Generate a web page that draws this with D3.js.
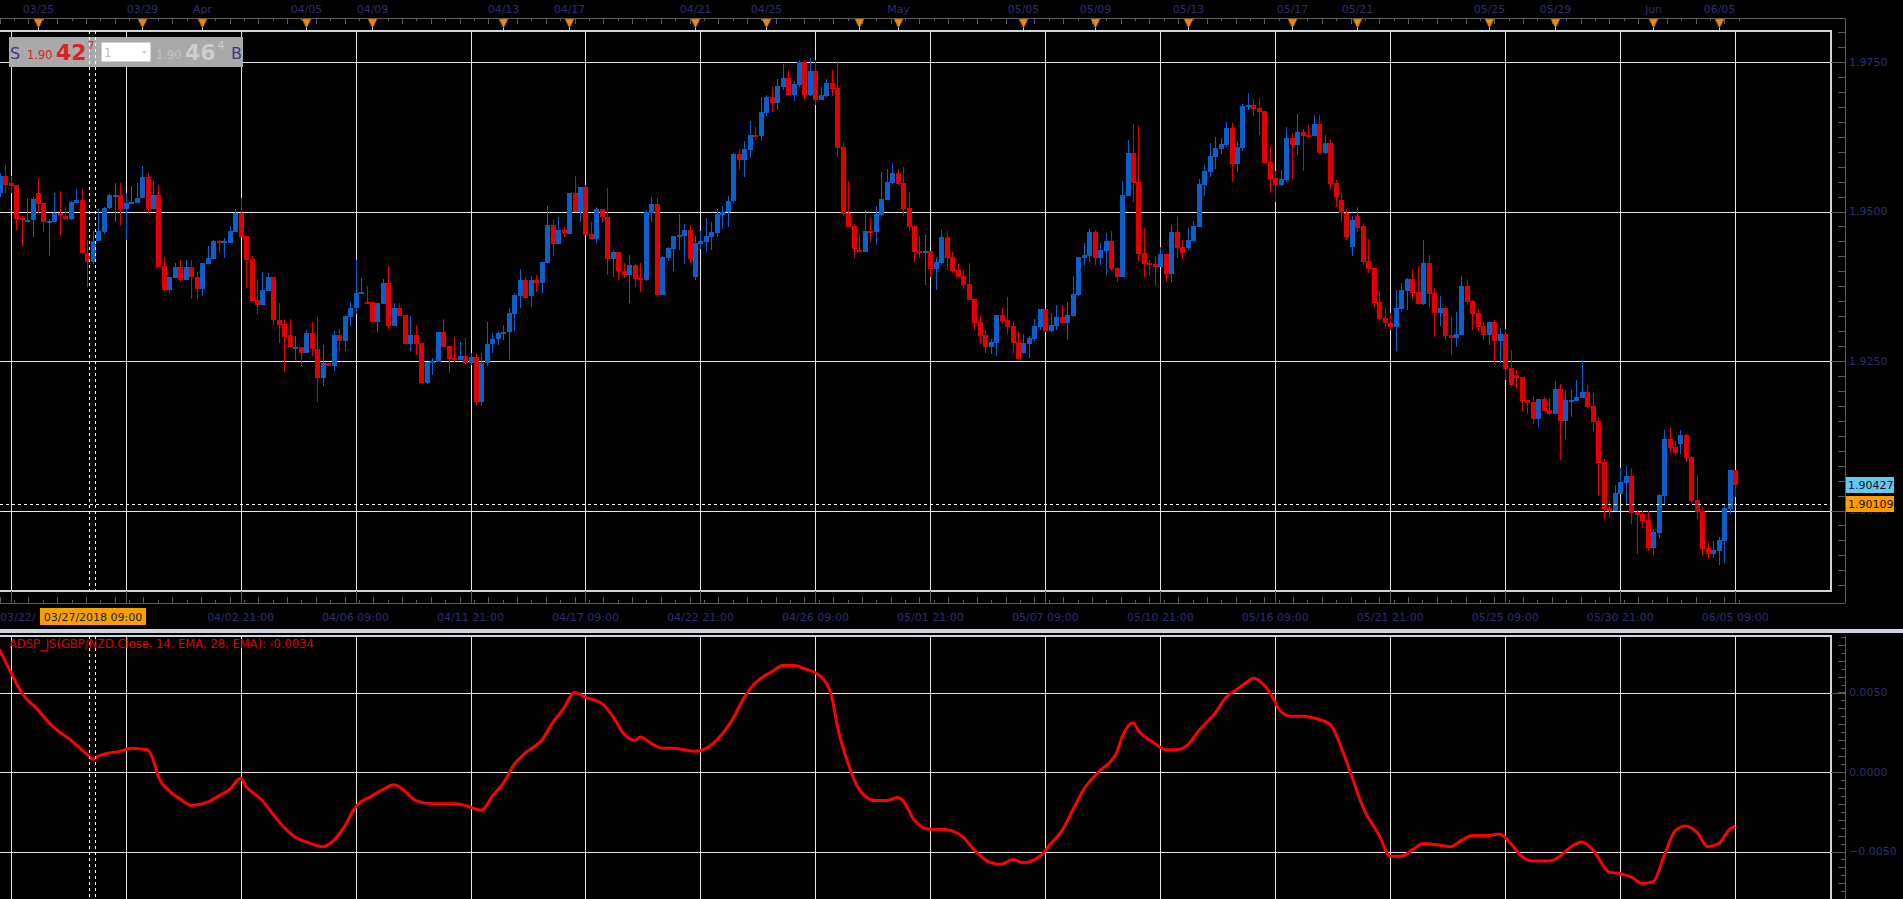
<!DOCTYPE html>
<html>
<head>
<meta charset="utf-8">
<script src="https://cdnjs.cloudflare.com/ajax/libs/d3/7.8.5/d3.min.js"></script>
<style>
html, body { margin: 0; padding: 0; background: #000; overflow: hidden; }
svg { display: block; }
text { font-family: "DejaVu Sans", Verdana, sans-serif; }
</style>
</head>
<body>
<div id="chart"></div>
<script>
// GBP/NZD 4H candles, 03/22 .. 06/05
var openP = [
1.9531,1.9559,1.9547,1.9545,1.9489,1.9485,1.9485,1.9531,1.9514,1.9483,
1.9483,1.9498,1.9493,1.9488,1.9514,1.9519,1.9431,1.9416,1.9450,1.9465,
1.9506,1.9527,1.9528,1.9504,1.9514,1.9514,1.9522,1.9557,1.9505,1.9528,
1.9409,1.9368,1.9388,1.9407,1.9386,1.9407,1.9391,1.9371,1.9413,1.9421,
1.9451,1.9449,1.9448,1.9465,1.9498,1.9459,1.9421,1.9352,1.9344,1.9367,
1.9391,1.9319,1.9312,1.9293,1.9273,1.9273,1.9263,1.9296,1.9270,1.9222,
1.9247,1.9242,1.9293,1.9283,1.9324,1.9338,1.9363,1.9349,1.9348,1.9316,
1.9346,1.9381,1.9308,1.9339,1.9327,1.9278,1.9294,1.9280,1.9214,1.9249,
1.9249,1.9299,1.9275,1.9255,1.9251,1.9259,1.9247,1.9257,1.9181,1.9246,
1.9278,1.9286,1.9295,1.9298,1.9329,1.9359,1.9386,1.9359,1.9386,1.9380,
1.9414,1.9478,1.9446,1.9469,1.9463,1.9531,1.9500,1.9541,1.9463,1.9454,
1.9504,1.9491,1.9420,1.9432,1.9401,1.9394,1.9411,1.9389,1.9386,1.9498,
1.9513,1.9361,1.9422,1.9438,1.9458,1.9459,1.9469,1.9390,1.9446,1.9449,
1.9458,1.9464,1.9494,1.9500,1.9517,1.9596,1.9586,1.9603,1.9628,1.9626,
1.9665,1.9692,1.9682,1.9708,1.9723,1.9695,1.9712,1.9750,1.9695,1.9735,
1.9687,1.9693,1.9715,1.9707,1.9608,1.9498,1.9476,1.9436,1.9432,1.9468,
1.9466,1.9494,1.9519,1.9548,1.9565,1.9548,1.9506,1.9476,1.9434,1.9431,
1.9434,1.9404,1.9414,1.9458,1.9424,1.9402,1.9392,1.9379,1.9354,1.9315,
1.9294,1.9274,1.9280,1.9327,1.9319,1.9309,1.9282,1.9264,1.9279,1.9287,
1.9307,1.9337,1.9300,1.9309,1.9324,1.9314,1.9325,1.9361,1.9422,1.9426,
1.9466,1.9422,1.9434,1.9451,1.9406,1.9391,1.9526,1.9598,1.9550,1.9431,
1.9414,1.9412,1.9407,1.9429,1.9396,1.9466,1.9441,1.9439,1.9451,1.9474,
1.9545,1.9566,1.9591,1.9605,1.9611,1.9640,1.9580,1.9606,1.9675,1.9678,
1.9673,1.9668,1.9583,1.9556,1.9545,1.9553,1.9623,1.9611,1.9633,1.9628,
1.9626,1.9647,1.9598,1.9615,1.9547,1.9519,1.9497,1.9441,1.9492,1.9475,
1.9417,1.9406,1.9349,1.9322,1.9314,1.9307,1.9337,1.9367,1.9387,1.9366,
1.9346,1.9414,1.9364,1.9330,1.9339,1.9294,1.9289,1.9294,1.9376,1.9351,
1.9330,1.9309,1.9294,1.9315,1.9284,1.9295,1.9239,1.9227,1.9223,1.9185,
1.9182,1.9153,1.9187,1.9168,1.9162,1.9203,1.9150,1.9183,1.9183,1.9188,
1.9198,1.9175,1.9150,1.9081,1.9004,1.8999,1.9028,1.9046,1.9058,1.8998,
1.8994,1.8984,1.8938,1.8963,1.9024,1.9120,1.9106,1.9111,1.9126,1.9089,
1.9018,1.8999,1.8938,1.8928,1.8933,1.8949,1.9002,1.9068];

var highP = [
1.9564,1.9578,1.9559,1.9545,1.9493,1.9523,1.9525,1.9556,1.9514,1.9488,
1.9531,1.9534,1.9507,1.9518,1.9538,1.9538,1.9453,1.9468,1.9505,1.9508,
1.9530,1.9547,1.9547,1.9531,1.9543,1.9548,1.9576,1.9565,1.9551,1.9544,
1.9424,1.9391,1.9414,1.9419,1.9419,1.9419,1.9398,1.9414,1.9443,1.9452,
1.9453,1.9456,1.9475,1.9505,1.9523,1.9459,1.9426,1.9387,1.9398,1.9397,
1.9391,1.9347,1.9320,1.9320,1.9292,1.9273,1.9302,1.9315,1.9324,1.9276,
1.9247,1.9300,1.9303,1.9327,1.9348,1.9419,1.9388,1.9376,1.9348,1.9347,
1.9387,1.9409,1.9347,1.9347,1.9327,1.9325,1.9310,1.9280,1.9249,1.9255,
1.9299,1.9320,1.9275,1.9290,1.9282,1.9289,1.9263,1.9263,1.9263,1.9315,
1.9296,1.9300,1.9310,1.9339,1.9363,1.9404,1.9390,1.9392,1.9394,1.9416,
1.9509,1.9486,1.9491,1.9474,1.9531,1.9560,1.9541,1.9544,1.9483,1.9507,
1.9504,1.9539,1.9436,1.9432,1.9414,1.9427,1.9412,1.9414,1.9502,1.9524,
1.9522,1.9425,1.9441,1.9459,1.9496,1.9479,1.9477,1.9459,1.9468,1.9489,
1.9483,1.9504,1.9509,1.9526,1.9598,1.9605,1.9618,1.9652,1.9641,1.9692,
1.9695,1.9708,1.9722,1.9747,1.9737,1.9718,1.9754,1.9752,1.9757,1.9754,
1.9708,1.9722,1.9737,1.9752,1.9616,1.9551,1.9479,1.9463,1.9503,1.9491,
1.9509,1.9566,1.9571,1.9581,1.9571,1.9575,1.9533,1.9478,1.9459,1.9463,
1.9434,1.9424,1.9469,1.9468,1.9432,1.9412,1.9402,1.9414,1.9356,1.9325,
1.9302,1.9287,1.9327,1.9339,1.9357,1.9317,1.9300,1.9295,1.9292,1.9320,
1.9337,1.9337,1.9330,1.9344,1.9344,1.9349,1.9392,1.9424,1.9448,1.9471,
1.9469,1.9448,1.9464,1.9468,1.9407,1.9551,1.9620,1.9647,1.9643,1.9473,
1.9419,1.9426,1.9441,1.9429,1.9478,1.9491,1.9453,1.9473,1.9484,1.9555,
1.9578,1.9615,1.9625,1.9623,1.9650,1.9648,1.9616,1.9680,1.9698,1.9688,
1.9690,1.9668,1.9610,1.9568,1.9570,1.9642,1.9631,1.9663,1.9638,1.9645,
1.9662,1.9662,1.9628,1.9620,1.9553,1.9531,1.9505,1.9492,1.9508,1.9480,
1.9454,1.9406,1.9367,1.9339,1.9330,1.9369,1.9381,1.9389,1.9402,1.9409,
1.9453,1.9427,1.9372,1.9359,1.9342,1.9324,1.9332,1.9392,1.9386,1.9352,
1.9337,1.9317,1.9315,1.9319,1.9305,1.9304,1.9269,1.9235,1.9223,1.9185,
1.9192,1.9187,1.9190,1.9188,1.9217,1.9212,1.9202,1.9202,1.9218,1.9252,
1.9210,1.9197,1.9157,1.9086,1.9014,1.9043,1.9071,1.9075,1.9071,1.9001,
1.8999,1.8999,1.8969,1.9028,1.9135,1.9138,1.9116,1.9135,1.9128,1.9089,
1.9060,1.9006,1.8948,1.8949,1.8956,1.9009,1.9068,1.9068];

var lowP = [
1.9525,1.9531,1.9531,1.9469,1.9443,1.9485,1.9458,1.9498,1.9465,1.9426,
1.9483,1.9460,1.9488,1.9486,1.9514,1.9430,1.9373,1.9412,1.9450,1.9463,
1.9504,1.9483,1.9475,1.9453,1.9514,1.9514,1.9522,1.9496,1.9505,1.9408,
1.9366,1.9366,1.9388,1.9382,1.9386,1.9354,1.9354,1.9358,1.9413,1.9420,
1.9430,1.9422,1.9448,1.9465,1.9458,1.9372,1.9351,1.9329,1.9344,1.9367,
1.9310,1.9280,1.9232,1.9271,1.9252,1.9241,1.9263,1.9259,1.9182,1.9209,
1.9241,1.9233,1.9266,1.9266,1.9309,1.9329,1.9363,1.9346,1.9313,1.9298,
1.9346,1.9303,1.9308,1.9326,1.9278,1.9266,1.9260,1.9214,1.9212,1.9227,
1.9249,1.9274,1.9230,1.9249,1.9251,1.9244,1.9244,1.9177,1.9174,1.9241,
1.9264,1.9276,1.9285,1.9252,1.9301,1.9339,1.9356,1.9341,1.9366,1.9364,
1.9414,1.9426,1.9446,1.9458,1.9463,1.9500,1.9482,1.9461,1.9454,1.9448,
1.9483,1.9393,1.9390,1.9385,1.9388,1.9347,1.9373,1.9365,1.9383,1.9482,
1.9357,1.9360,1.9418,1.9400,1.9436,1.9412,1.9414,1.9385,1.9438,1.9432,
1.9436,1.9458,1.9471,1.9474,1.9515,1.9570,1.9558,1.9590,1.9620,1.9618,
1.9660,1.9667,1.9670,1.9703,1.9695,1.9685,1.9708,1.9688,1.9693,1.9678,
1.9687,1.9692,1.9693,1.9591,1.9493,1.9474,1.9422,1.9431,1.9432,1.9449,
1.9444,1.9493,1.9519,1.9546,1.9545,1.9493,1.9468,1.9416,1.9422,1.9377,
1.9391,1.9369,1.9411,1.9402,1.9397,1.9391,1.9371,1.9352,1.9302,1.9279,
1.9264,1.9262,1.9259,1.9312,1.9295,1.9264,1.9254,1.9262,1.9255,1.9284,
1.9302,1.9299,1.9299,1.9302,1.9312,1.9285,1.9324,1.9359,1.9411,1.9416,
1.9411,1.9411,1.9394,1.9401,1.9382,1.9391,1.9526,1.9516,1.9416,1.9391,
1.9392,1.9376,1.9407,1.9382,1.9382,1.9422,1.9421,1.9436,1.9451,1.9474,
1.9526,1.9558,1.9571,1.9596,1.9608,1.9550,1.9566,1.9601,1.9670,1.9660,
1.9628,1.9580,1.9531,1.9516,1.9543,1.9550,1.9555,1.9595,1.9568,1.9626,
1.9626,1.9598,1.9596,1.9536,1.9508,1.9483,1.9453,1.9426,1.9466,1.9411,
1.9397,1.9339,1.9319,1.9304,1.9302,1.9267,1.9334,1.9336,1.9354,1.9346,
1.9344,1.9340,1.9290,1.9309,1.9285,1.9260,1.9274,1.9294,1.9344,1.9302,
1.9300,1.9285,1.9277,1.9245,1.9247,1.9218,1.9210,1.9203,1.9167,1.9162,
1.9145,1.9140,1.9167,1.9160,1.9162,1.9085,1.9120,1.9157,1.9183,1.9188,
1.9172,1.9133,1.9026,1.8986,1.8988,1.8999,1.9028,1.9009,1.8978,1.8928,
1.8971,1.8932,1.8926,1.8954,1.9011,1.9096,1.9095,1.9095,1.9081,1.9014,
1.8986,1.8924,1.8919,1.8921,1.8909,1.8912,1.8994,1.9023];

var closeP = [
1.9559,1.9545,1.9543,1.9488,1.9485,1.9486,1.9521,1.9513,1.9483,1.9484,
1.9498,1.9492,1.9488,1.9516,1.9519,1.9430,1.9416,1.9450,1.9468,1.9506,
1.9528,1.9528,1.9504,1.9514,1.9516,1.9523,1.9557,1.9504,1.9528,1.9408,
1.9368,1.9390,1.9407,1.9386,1.9407,1.9390,1.9371,1.9414,1.9423,1.9451,
1.9449,1.9450,1.9468,1.9498,1.9458,1.9419,1.9351,1.9344,1.9368,1.9391,
1.9318,1.9310,1.9290,1.9273,1.9274,1.9264,1.9296,1.9270,1.9222,1.9247,
1.9242,1.9293,1.9283,1.9325,1.9339,1.9363,1.9365,1.9347,1.9316,1.9347,
1.9381,1.9308,1.9338,1.9326,1.9278,1.9294,1.9279,1.9214,1.9249,1.9250,
1.9299,1.9274,1.9253,1.9251,1.9259,1.9247,1.9257,1.9181,1.9247,1.9279,
1.9287,1.9297,1.9299,1.9330,1.9361,1.9386,1.9356,1.9386,1.9380,1.9416,
1.9478,1.9446,1.9469,1.9464,1.9531,1.9500,1.9541,1.9461,1.9454,1.9504,
1.9490,1.9420,1.9432,1.9400,1.9394,1.9411,1.9387,1.9386,1.9500,1.9513,
1.9361,1.9424,1.9439,1.9459,1.9461,1.9469,1.9420,1.9448,1.9451,1.9459,
1.9466,1.9496,1.9500,1.9518,1.9596,1.9586,1.9605,1.9628,1.9626,1.9667,
1.9692,1.9682,1.9710,1.9723,1.9695,1.9713,1.9750,1.9695,1.9735,1.9687,
1.9695,1.9715,1.9705,1.9606,1.9496,1.9474,1.9438,1.9432,1.9468,1.9466,
1.9496,1.9521,1.9549,1.9565,1.9546,1.9505,1.9474,1.9432,1.9431,1.9434,
1.9404,1.9416,1.9458,1.9422,1.9401,1.9391,1.9377,1.9352,1.9314,1.9292,
1.9274,1.9282,1.9327,1.9317,1.9307,1.9280,1.9254,1.9280,1.9289,1.9309,
1.9337,1.9300,1.9310,1.9324,1.9314,1.9327,1.9362,1.9424,1.9427,1.9466,
1.9422,1.9436,1.9451,1.9404,1.9391,1.9528,1.9598,1.9548,1.9429,1.9412,
1.9411,1.9407,1.9429,1.9396,1.9466,1.9439,1.9431,1.9453,1.9476,1.9546,
1.9568,1.9593,1.9606,1.9613,1.9640,1.9580,1.9608,1.9677,1.9678,1.9672,
1.9667,1.9581,1.9555,1.9545,1.9555,1.9623,1.9611,1.9633,1.9626,1.9626,
1.9647,1.9598,1.9615,1.9546,1.9525,1.9497,1.9458,1.9486,1.9473,1.9416,
1.9404,1.9347,1.9320,1.9313,1.9307,1.9339,1.9369,1.9387,1.9364,1.9346,
1.9414,1.9362,1.9330,1.9339,1.9292,1.9289,1.9295,1.9376,1.9349,1.9329,
1.9307,1.9294,1.9315,1.9284,1.9295,1.9237,1.9210,1.9222,1.9183,1.9180,
1.9153,1.9187,1.9167,1.9162,1.9203,1.9150,1.9185,1.9185,1.9190,1.9198,
1.9173,1.9148,1.9080,1.9003,1.8999,1.9029,1.9048,1.9058,1.8996,1.8993,
1.8983,1.8938,1.8964,1.9026,1.9120,1.9105,1.9096,1.9126,1.9088,1.9016,
1.8998,1.8936,1.8928,1.8934,1.8951,1.9004,1.9068,1.9043];

// ADSP_JS indicator, sampled at candle numbers
var adspIndex = [0,2,4,7,9,11,13,16,17,18,20,22,24,27,28,29,31,33,35,38,
40,42,44,45,48,50,52,54,56,59,61,63,65,68,70,72,74,76,79,81,
83,85,88,90,92,94,96,99,101,103,105,107,110,112,114,116,117,119,121,123,
125,127,130,132,134,136,138,141,143,145,147,150,152,153,155,157,160,162,164,165,
167,170,172,174,176,178,181,183,185,187,190,192,194,196,198,201,203,204,205,207,
208,211,213,215,217,219,222,224,226,228,229,232,234,236,238,240,243,245,247,249,
252,254,256,258,260,263,265,267,269,272,274,276,278,280,283,285,287,289,291,294,
296,298,300,302,304,306,308,310,312,314,316,317];
var adspValue = [
0.0077,0.0063,0.0050,0.0039,0.0031,0.0025,0.0020,0.0011,0.0008,0.0010,
0.0012,0.0013,0.0015,0.0014,0.0008,-0.0003,-0.0012,-0.0017,-0.0021,-0.0019,
-0.0015,-0.0011,-0.0004,-0.0009,-0.0018,-0.0027,-0.0035,-0.0041,-0.0044,-0.0047,
-0.0043,-0.0034,-0.0022,-0.0015,-0.0011,-0.0008,-0.0012,-0.0018,-0.0020,-0.0020,
-0.0020,-0.0021,-0.0024,-0.0015,-0.0007,0.0005,0.0012,0.0020,0.0031,0.0040,
0.0050,0.0047,0.0043,0.0035,0.0024,0.0020,0.0022,0.0018,0.0015,0.0015,
0.0014,0.0013,0.0017,0.0024,0.0034,0.0047,0.0056,0.0063,0.0067,0.0067,
0.0065,0.0060,0.0047,0.0029,0.0005,-0.0011,-0.0018,-0.0018,-0.0016,-0.0018,
-0.0030,-0.0036,-0.0036,-0.0037,-0.0041,-0.0049,-0.0057,-0.0058,-0.0055,-0.0057,
-0.0053,-0.0045,-0.0037,-0.0024,-0.0011,0.0001,0.0007,0.0012,0.0022,0.0031,
0.0026,0.0018,0.0014,0.0014,0.0017,0.0026,0.0037,0.0047,0.0052,0.0057,
0.0059,0.0050,0.0038,0.0035,0.0035,0.0034,0.0030,0.0016,-0.0003,-0.0022,
-0.0040,-0.0053,-0.0053,-0.0049,-0.0045,-0.0046,-0.0047,-0.0043,-0.0040,-0.0040,
-0.0039,-0.0045,-0.0053,-0.0056,-0.0056,-0.0053,-0.0047,-0.0044,-0.0049,-0.0063,
-0.0064,-0.0066,-0.0070,-0.0069,-0.0053,-0.0037,-0.0034,-0.0038,-0.0047,-0.0045,
-0.0036,-0.0034];

// time axis labels, one per grid line (every 21 candles, first grid at candle 2)
// the first one is cut by the crosshair tag, so only its start shows
var timeLabels = ["03/22/", "", "04/02 21:00", "04/06 09:00", "04/11 21:00", "04/17 09:00",
    "04/22 21:00", "04/26 09:00", "05/01 21:00", "05/07 09:00", "05/10 21:00", "05/16 09:00",
    "05/21 21:00", "05/25 09:00", "05/30 21:00", "06/05 09:00"];

// markers on the top date strip
var markerIndex = [7, 26, 37, 56, 68, 92, 104, 127, 140, 157, 164, 187, 200, 217, 236, 248, 272, 284, 302, 314];
var markerLabels = ["03/25", "03/29", "Apr", "04/05", "04/09", "04/13", "04/17", "04/21", "04/25", "",
    "May", "05/05", "05/09", "05/13", "05/17", "05/21", "05/25", "05/29", "Jun", "06/05"];

var priceTicks = [1.9000, 1.9250, 1.9500, 1.9750];
var adspTicks = [-0.005, 0, 0.005];

var bidPrice = 1.90427, askPrice = 1.90109;
var crossIndex = 17, crossLabel = "03/27/2018 09:00";
var adspLabel = "ADSP_JS(GBP/NZD.Close, 14, EMA, 28, EMA): -0.0034";

// layout
var W = 1903, H = 899;
var plotRight = 1831, axisX = 1845;
var upTop = 31, upBot = 591, loTop = 636;
var topAxisY = 18, botAxisY = 603;
var navy = "#2e2e72", frameCol = "#cdd4dc", gridCol = "#e4e4e4", axisCol = "#5c5c5c";
var upCol = "#0a60c8", downCol = "#e00000";

var svg = d3.select("#chart").append("svg").attr("width", W).attr("height", H);
svg.append("rect").attr("width", W).attr("height", H).attr("fill", "#000");

var x = d3.scaleLinear().domain([0, 317]).range([-0.3, 1735.2]);
var yP = d3.scaleLinear().domain([1.90, 1.975]).range([510.5, 62]);
var yI = d3.scaleLinear().domain([-0.005, 0.005]).range([851.5, 692.5]);

var gridIndex = timeLabels.map(function(d, k) { return 2 + 21 * k; });

var defs = svg.append("defs");
defs.append("clipPath").attr("id", "clipUp").append("rect")
    .attr("x", 0).attr("y", upTop).attr("width", plotRight).attr("height", upBot - upTop);
defs.append("clipPath").attr("id", "clipLo").append("rect")
    .attr("x", 0).attr("y", loTop).attr("width", plotRight).attr("height", H - loTop);

function px(v) { return Math.round(v) + 0.5; }

// grid
var grid = svg.append("g").attr("stroke", gridCol).attr("stroke-width", 1);
gridIndex.forEach(function(gi) {
    grid.append("line").attr("x1", px(x(gi))).attr("x2", px(x(gi))).attr("y1", upTop).attr("y2", upBot);
    grid.append("line").attr("x1", px(x(gi))).attr("x2", px(x(gi))).attr("y1", loTop).attr("y2", H);
});
priceTicks.forEach(function(p) {
    grid.append("line").attr("x1", 0).attr("x2", plotRight).attr("y1", px(yP(p))).attr("y2", px(yP(p)));
});
adspTicks.forEach(function(v) {
    grid.append("line").attr("x1", 0).attr("x2", plotRight).attr("y1", px(yI(v))).attr("y2", px(yI(v)));
});

// candles
var candles = d3.range(openP.length).map(function(i) {
    return { i: i, o: openP[i], h: highP[i], l: lowP[i], c: closeP[i] };
});
var cg = svg.append("g").attr("clip-path", "url(#clipUp)");
var cs = cg.selectAll("g.candle").data(candles).enter().append("g").attr("class", "candle")
    .attr("fill", function(d) { return d.c >= d.o ? upCol : downCol; });
cs.append("rect")
    .attr("x", function(d) { return Math.round(x(d.i)); })
    .attr("width", 1)
    .attr("y", function(d) { return Math.round(yP(d.h)); })
    .attr("height", function(d) { return Math.max(1, Math.round(yP(d.l)) - Math.round(yP(d.h))); });
cs.append("rect")
    .attr("x", function(d) { return Math.round(x(d.i)) - 2; })
    .attr("width", 5)
    .attr("y", function(d) { return Math.round(yP(Math.max(d.o, d.c))); })
    .attr("height", function(d) { return Math.max(2, Math.round(yP(Math.min(d.o, d.c))) - Math.round(yP(Math.max(d.o, d.c)))); });

// indicator line
var adsp = adspIndex.map(function(idx, k) { return { i: idx, v: adspValue[k] }; });
var line = d3.line().x(function(d) { return x(d.i); }).y(function(d) { return yI(d.v); })
    .curve(d3.curveMonotoneX);
svg.append("g").attr("clip-path", "url(#clipLo)").append("path")
    .datum(adsp).attr("d", line).attr("fill", "none")
    .attr("stroke", "#ff0000").attr("stroke-width", 3).attr("stroke-linejoin", "round");

// frames and separator
svg.append("path").attr("d", "M0," + upTop + "H" + plotRight + "V" + upBot + "H0")
    .attr("fill", "none").attr("stroke", frameCol).attr("stroke-width", 2);
svg.append("rect").attr("x", 0).attr("y", 629).attr("width", W).attr("height", 4).attr("fill", frameCol);
svg.append("path").attr("d", "M0," + loTop + "H" + plotRight + "V" + H)
    .attr("fill", "none").attr("stroke", frameCol).attr("stroke-width", 2);

// axis lines
var ax = svg.append("g").attr("stroke", axisCol).attr("stroke-width", 1);
ax.append("path").attr("fill", "none")
    .attr("d", "M0," + (topAxisY + 0.5) + "H" + (axisX + 0.5) + "V" + (botAxisY + 0.5) + "H0");
ax.append("line").attr("x1", axisX + 0.5).attr("x2", axisX + 0.5).attr("y1", loTop).attr("y2", H);

// time ticks (top and bottom strips)
d3.range(0, 318, 21 / 8).forEach(function(t, k) {
    var tx = px(x(t));
    var len = (k % 2 === 0) ? 6 : 3;
    ax.append("line").attr("x1", tx).attr("x2", tx).attr("y1", topAxisY).attr("y2", topAxisY + len);
    ax.append("line").attr("x1", tx).attr("x2", tx).attr("y1", botAxisY).attr("y2", botAxisY - len);
});
gridIndex.forEach(function(gi) {
    ax.append("line").attr("x1", px(x(gi))).attr("x2", px(x(gi))).attr("y1", upBot).attr("y2", botAxisY);
});

// price ticks on the right
d3.range(1.8875, 1.9801, 0.0025).forEach(function(p) {
    ax.append("line").attr("x1", axisX - 7).attr("x2", axisX).attr("y1", px(yP(p))).attr("y2", px(yP(p)));
});
priceTicks.forEach(function(p) {
    ax.append("line").attr("x1", plotRight).attr("x2", axisX).attr("y1", px(yP(p))).attr("y2", px(yP(p)));
});
d3.range(-0.008, 0.0086, 0.0005).forEach(function(v, k) {
    var len = (k % 2 === 0) ? 7 : 4;
    ax.append("line").attr("x1", axisX - len).attr("x2", axisX).attr("y1", px(yI(v))).attr("y2", px(yI(v)));
});
adspTicks.forEach(function(v) {
    ax.append("line").attr("x1", plotRight).attr("x2", axisX).attr("y1", px(yI(v))).attr("y2", px(yI(v)));
});

// right axis labels
var fmt4 = d3.format(".4f");
priceTicks.forEach(function(p) {
    svg.append("text").attr("x", axisX + 4).attr("y", yP(p)).attr("dy", "0.36em")
        .attr("font-size", 11).attr("fill", navy).text(fmt4(p));
});
adspTicks.forEach(function(v) {
    svg.append("text").attr("x", axisX + 4).attr("y", yI(v)).attr("dy", "0.36em")
        .attr("font-size", 11).attr("fill", navy).text(fmt4(v));
});

// bottom time labels
timeLabels.forEach(function(lbl, k) {
    if (!lbl) return;
    var t = svg.append("text").attr("y", 621).attr("font-size", 11).attr("fill", navy).text(lbl);
    if (k === 0) t.attr("x", 0);
    else t.attr("x", x(gridIndex[k])).attr("text-anchor", "middle");
});

// top markers
markerIndex.forEach(function(mi, k) {
    var mx = px(x(mi));
    svg.append("line").attr("x1", mx).attr("x2", mx).attr("y1", 26).attr("y2", upTop)
        .attr("stroke", "#d8d8d8").attr("stroke-width", 1);
    svg.append("path").attr("d", "M" + (mx - 4.5) + ",19L" + (mx + 4.5) + ",19L" + mx + ",28Z")
        .attr("fill", "#e88c10").attr("stroke", "#a85e00").attr("stroke-width", 0.6);
    if (markerLabels[k]) {
        svg.append("text").attr("x", mx).attr("y", 13).attr("text-anchor", "middle")
            .attr("font-size", 11).attr("fill", navy).text(markerLabels[k]);
    }
});

// quote box, top left
var qb = svg.append("g");
qb.append("rect").attr("x", 9).attr("y", 37).attr("width", 234).attr("height", 30).attr("fill", "#a9a9a9");
qb.append("text").attr("x", 10).attr("y", 58.5).attr("font-size", 16).attr("fill", "#3a3a7c").text("S");
qb.append("text").attr("x", 27).attr("y", 59).attr("font-size", 11.5).attr("fill", "#dd2222").text("1.90");
qb.append("text").attr("x", 56).attr("y", 60).attr("font-size", 22).attr("font-weight", "bold")
    .attr("font-family", "Liberation Sans, Arial, sans-serif").attr("fill", "#dd2222").text("42");
qb.append("text").attr("x", 88).attr("y", 49).attr("font-size", 10).attr("fill", "#dd2222").text("7");
qb.append("rect").attr("x", 101.5).attr("y", 42.5).attr("width", 49).attr("height", 19)
    .attr("fill", "#fff").attr("stroke", "#d0d0d0");
qb.append("text").attr("x", 104).attr("y", 57).attr("font-size", 12).attr("fill", "#c0c0c0").text("1");
qb.append("path").attr("d", "M142,51L147,51L144.5,54Z").attr("fill", "#c8c8c8");
qb.append("text").attr("x", 156).attr("y", 59).attr("font-size", 11.5).attr("fill", "#c4c4c4").text("1.90");
qb.append("text").attr("x", 185).attr("y", 60).attr("font-size", 22).attr("font-weight", "bold")
    .attr("font-family", "Liberation Sans, Arial, sans-serif").attr("fill", "#cdcdcd").text("46");
qb.append("text").attr("x", 218).attr("y", 49).attr("font-size", 10).attr("fill", "#d0d0d0").text("4");
qb.append("text").attr("x", 231).attr("y", 58.5).attr("font-size", 16).attr("fill", "#3a3a7c").text("B");

// crosshair
var cx = Math.round(x(crossIndex));
var ch = svg.append("g").attr("stroke", "#fff").attr("stroke-width", 1).attr("stroke-dasharray", "3,3");
[cx - 3.5, cx + 2.5].forEach(function(lx) {
    ch.append("line").attr("x1", lx).attr("x2", lx).attr("y1", upTop).attr("y2", upBot);
    ch.append("line").attr("x1", lx).attr("x2", lx).attr("y1", loTop).attr("y2", H);
});
ch.append("line").attr("x1", 0).attr("x2", plotRight)
    .attr("y1", px(yP(askPrice))).attr("y2", px(yP(askPrice)));

// crosshair time tag
svg.append("rect").attr("x", cx - 53).attr("y", 608).attr("width", 106).attr("height", 17).attr("fill", "#f5a000");
svg.append("text").attr("x", cx).attr("y", 621).attr("text-anchor", "middle")
    .attr("font-size", 11).attr("fill", "#1c1c50").text(crossLabel);

// price tags
[[bidPrice, "#64c8f2"], [askPrice, "#ff9a00"]].forEach(function(tg) {
    var ty = Math.round(yP(tg[0]));
    svg.append("rect").attr("x", axisX + 1).attr("y", ty - 8).attr("width", 48).attr("height", 16).attr("fill", tg[1]);
    svg.append("text").attr("x", axisX + 3).attr("y", ty).attr("dy", "0.36em")
        .attr("font-size", 11).attr("fill", "#111").text(d3.format(".5f")(tg[0]));
});

// indicator caption
svg.append("text").attr("x", 9).attr("y", 648).attr("font-size", 11.5).attr("fill", "#e00000").text(adspLabel);
</script>
</body>
</html>
